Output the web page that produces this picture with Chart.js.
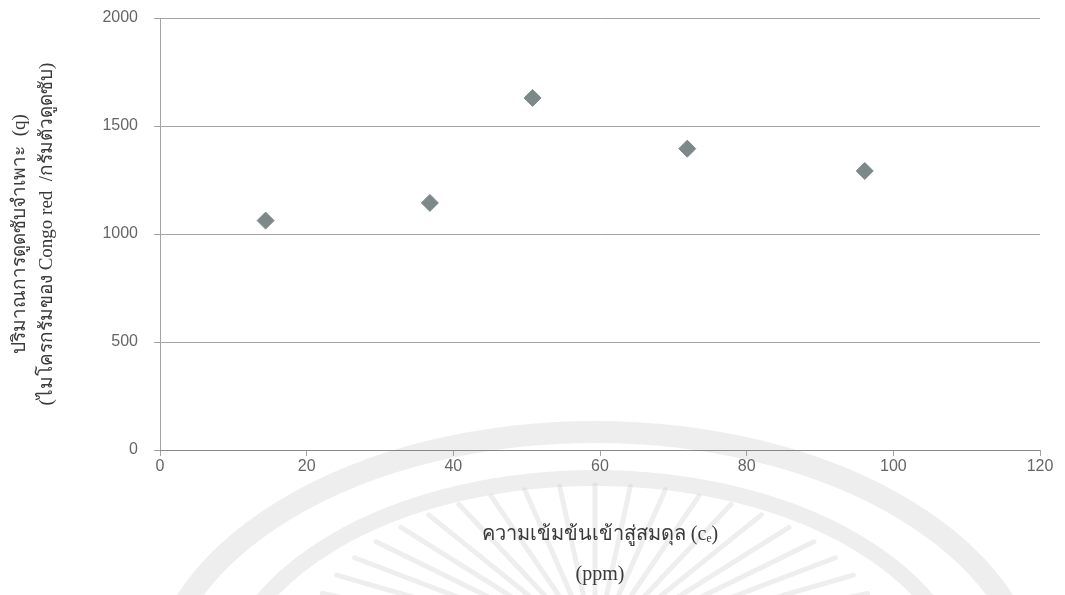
<!DOCTYPE html>
<html>
<head>
<meta charset="utf-8">
<script src="https://cdn.jsdelivr.net/npm/chart.js@4/dist/chart.umd.min.js"></script>
<style>
  html, body { margin: 0; padding: 0; background: #ffffff; }
  #wrap { width: 1065px; height: 595px; }
</style>
</head>
<body>
<div id="wrap"><canvas id="c" width="1065" height="595"></canvas></div>
<script>
// Equilibrium concentration c_e (ppm) and specific adsorption q
const concentration = [14.4, 36.8, 50.8, 71.9, 96.1];
const adsorption = [1062, 1144, 1630, 1395, 1292];

const xTitleLines = ['ความเข้มข้นเข้าสู่สมดุล (cₑ)', '(ppm)'];
const yTitleLines = ['ปริมาณการดูดซับจำเพาะ  (q)', '(ไมโครกรัมของ Congo red  /กรัมตัวดูดซับ)'];

const xRange = { min: 0, max: 120, step: 20 };
const yRange = { min: 0, max: 2000, step: 500 };

const points = concentration.map((x, i) => ({ x, y: adsorption[i] }));

const gridColor = 'rgba(125,125,125,0.7)';
const tickFont = { family: '"Liberation Sans", Arial, sans-serif', size: 16 };
const titleFamily = '"Liberation Serif", "Times New Roman", serif';

// faint emblem drawn behind the chart, lower centre of the page
const emblem = {
  id: 'emblem',
  beforeDraw(chart) {
    const ctx = chart.ctx;
    const cx = 595, cy = 700;
    ctx.save();
    ctx.strokeStyle = 'rgba(200,200,200,0.3)';
    ctx.lineCap = 'round';
    // outer and inner rings
    ctx.lineWidth = 22;
    ctx.beginPath();
    ctx.ellipse(cx, cy, 440, 268, 0, Math.PI, 2 * Math.PI);
    ctx.stroke();
    ctx.lineWidth = 16;
    ctx.beginPath();
    ctx.ellipse(cx, cy, 372, 222, 0, Math.PI, 2 * Math.PI);
    ctx.stroke();
    // rays fanning out from the centre
    ctx.lineWidth = 5;
    const rx0 = 95, ry0 = 55, rx1 = 290, ry1 = 165;
    for (let a = 200; a <= 340; a += 7) {
      const t = a * Math.PI / 180;
      ctx.beginPath();
      ctx.moveTo(cx + rx0 * Math.cos(t), cy - 50 + ry0 * Math.sin(t));
      ctx.lineTo(cx + rx1 * Math.cos(t), cy - 50 + ry1 * Math.sin(t));
      ctx.stroke();
    }
    ctx.restore();
  }
};

new Chart(document.getElementById('c'), {
  type: 'scatter',
  data: {
    datasets: [{
      data: points,
      pointStyle: 'rectRot',
      pointRadius: 8.5,
      pointHoverRadius: 8.5,
      pointBackgroundColor: '#7d8989',
      pointBorderColor: '#7d8989',
      pointBorderWidth: 1
    }]
  },
  options: {
    responsive: false,
    animation: false,
    events: [],
    layout: { padding: { left: 0, right: 25, top: 18, bottom: 0 } },
    plugins: { legend: { display: false }, tooltip: { enabled: false } },
    scales: {
      x: {
        type: 'linear',
        min: xRange.min, max: xRange.max,
        ticks: { stepSize: xRange.step, color: '#666666', font: tickFont, padding: 1,
                 callback: v => String(v) },
        grid: { drawOnChartArea: false, drawTicks: true, tickLength: 6, color: gridColor, tickColor: gridColor },
        border: { display: true, color: gridColor, width: 1 },
        title: {
          display: true,
          text: xTitleLines,
          color: '#3a3a3a',
          font: { family: titleFamily, size: 20, lineHeight: 2.0 },
          padding: { top: 0, bottom: 0 }
        },
        afterFit(scale) { scale.height = 145; scale.paddingLeft = 0; scale.paddingRight = 0; }
      },
      y: {
        type: 'linear',
        min: yRange.min, max: yRange.max,
        ticks: { stepSize: yRange.step, color: '#666666', font: tickFont, padding: 16,
                 callback: v => String(v) },
        grid: { drawOnChartArea: true, drawTicks: true, tickLength: 6, color: gridColor, tickColor: gridColor },
        border: { display: true, color: gridColor, width: 1 },
        title: {
          display: true,
          text: yTitleLines,
          color: '#3a3a3a',
          font: { family: titleFamily, size: 19, lineHeight: 1.45 },
          padding: { top: 6, bottom: 0 }
        },
        afterFit(scale) { scale.width = 160; scale.paddingTop = 0; scale.paddingBottom = 0; }
      }
    }
  },
  plugins: [emblem]
});
</script>
</body>
</html>
